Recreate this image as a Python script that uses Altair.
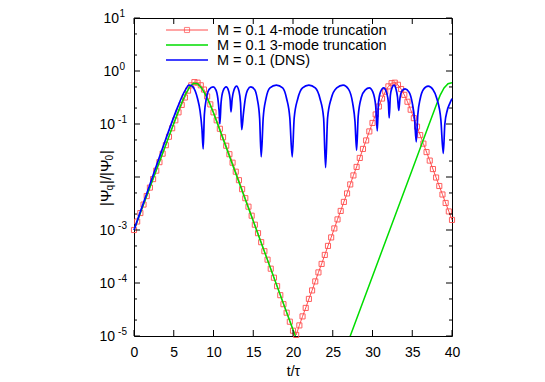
import altair as alt
import pandas as pd

W, H = 318, 318
FONT = "Liberation Sans"

# DNS curve (t, |psi_q|/|psi_0|)
dns_t = [0, 1, 2, 3, 4, 5, 5.5, 6, 6.5, 6.9, 7.3, 7.7, 8.0, 8.3, 8.55, 8.7,
         8.85, 9.1, 9.45, 9.95, 10.3, 10.55, 10.7, 10.8,
         10.95, 11.2, 11.6, 11.9, 12.1, 12.2,
         12.35, 12.6, 12.9, 13.2, 13.4, 13.55,
         13.75, 14.0, 14.3, 14.7, 15.2, 15.5, 15.8, 16.0,
         16.25, 16.6, 17.1, 17.9, 18.7, 19.2, 19.6, 19.9,
         20.15, 20.6, 21.2, 22.0, 22.8, 23.4, 23.85, 24.1,
         24.35, 24.8, 25.5, 26.3, 27.0, 27.5, 27.8, 28.0,
         28.2, 28.6, 29.1, 29.6, 30.05, 30.4, 30.6,
         30.75, 31.0, 31.4, 31.8, 32.0, 32.1,
         32.25, 32.45, 32.7, 32.95, 33.15, 33.3,
         33.45, 33.7, 34.1, 34.6, 35.0, 35.3, 35.5,
         35.7, 36.0, 36.4, 37.0, 37.6, 38.1, 38.6, 38.9,
         39.1, 39.4, 39.7, 40.0]
dns_y = [1.0e-3, 2.7e-3, 7.2e-3, 0.0195, 0.052, 0.135, 0.21, 0.32, 0.45, 0.54, 0.52, 0.42, 0.30, 0.18, 0.08, 0.034,
         0.15, 0.30, 0.45, 0.50, 0.44, 0.30, 0.18, 0.10,
         0.25, 0.42, 0.50, 0.42, 0.28, 0.17,
         0.30, 0.45, 0.52, 0.42, 0.25, 0.078,
         0.15, 0.30, 0.44, 0.50, 0.44, 0.30, 0.13, 0.024,
         0.13, 0.30, 0.48, 0.54, 0.48, 0.30, 0.13, 0.024,
         0.13, 0.30, 0.48, 0.54, 0.48, 0.30, 0.13, 0.015,
         0.13, 0.30, 0.48, 0.54, 0.45, 0.25, 0.11, 0.032,
         0.14, 0.32, 0.44, 0.48, 0.40, 0.22, 0.074,
         0.25, 0.40, 0.48, 0.38, 0.25, 0.13,
         0.35, 0.48, 0.54, 0.46, 0.32, 0.18,
         0.30, 0.42, 0.46, 0.40, 0.25, 0.12, 0.046,
         0.15, 0.30, 0.45, 0.52, 0.45, 0.30, 0.12, 0.028,
         0.10, 0.18, 0.24, 0.30]

# 4-mode truncation, sampled every 0.4 in t; values are log10(|psi_q|/|psi_0|)
red_t = [round(0.4 * i, 1) for i in range(101)]
red_log = [-3.00, -2.84, -2.68, -2.52, -2.36, -2.20, -2.04, -1.88, -1.72, -1.56,
           -1.40, -1.24, -1.08, -0.93, -0.78, -0.64, -0.50, -0.37, -0.27, -0.21,
           -0.22, -0.27, -0.35, -0.48, -0.63, -0.78, -0.93, -1.09, -1.25, -1.41,
           -1.57, -1.73, -1.90, -2.06, -2.23, -2.40, -2.56, -2.73, -2.90, -3.06,
           -3.23, -3.40, -3.56, -3.73, -3.90, -4.06, -4.23, -4.40, -4.56, -4.73,
           -4.90, -4.98,
           -4.80, -4.63, -4.47, -4.30, -4.14, -3.97, -3.80, -3.64, -3.47, -3.30,
           -3.14, -2.97, -2.80, -2.64, -2.47, -2.31, -2.14, -1.97, -1.81, -1.64,
           -1.47, -1.31, -1.14, -0.98, -0.82, -0.67, -0.52, -0.39, -0.29, -0.23,
           -0.22, -0.26, -0.34, -0.45, -0.58, -0.73, -0.89, -1.05, -1.21, -1.37,
           -1.53, -1.69, -1.85, -2.01, -2.17, -2.33, -2.49, -2.65, -2.81]

# 3-mode truncation; values are log10(|psi_q|/|psi_0|)
green_t = [0, 5.0, 5.5, 6.0, 6.5, 7.0, 7.5, 8.0, 8.5, 9.0, 9.5, 10.0,
           20.25, 23.7, 27.2, 35.1, 37.0, 38.0, 38.5, 39.0, 39.5, 40.0]
green_log = [-3.0, -0.99, -0.79, -0.60, -0.43, -0.30, -0.23, -0.24, -0.32, -0.45, -0.61, -0.79,
             -4.98, -6.45, -5.0, -1.82, -1.05, -0.65, -0.46, -0.32, -0.24, -0.22]

x_major = [0, 5, 10, 15, 20, 25, 30, 35, 40]
y_major = [1e-5, 1e-4, 1e-3, 1e-2, 1e-1, 1, 10]
# labelled decades (10^-2 is hidden behind the axis title in the reference)
y_lab = [1e-5, 1e-4, 1e-3, 1e-1, 1, 10]
y_exp = ["-5", "-4", "-3", "-1", "0", "1"]
y_minor = [2e-5, 5e-5, 2e-4, 5e-4, 2e-3, 5e-3, 0.02, 0.05, 0.2, 0.5, 2, 5]

legend_labels = ["M = 0.1 4-mode truncation", "M = 0.1 3-mode truncation", "M = 0.1 (DNS)"]

RED, GREEN, BLUE = "#ff4d4d", "#00dd00", "#0000ff"

df_dns = pd.DataFrame({"t": dns_t, "v": dns_y})
df_red = pd.DataFrame({"t": red_t, "v": [10 ** l for l in red_log]})
df_green = pd.DataFrame({"t": green_t, "v": [10 ** l for l in green_log]})

xs = alt.Scale(domain=[0, 40], nice=False, zero=False)
ys = alt.Scale(type="log", domain=[1e-5, 10], nice=False)

x_axis = alt.Axis(values=x_major, ticks=False, domain=False, grid=False,
                  labelFontSize=14, labelFont=FONT, labelColor="black", labelPadding=9,
                  labelFlush=False, title="t/τ", titleFont=FONT, titleFontSize=14,
                  titleFontWeight="normal", titleColor="black", titlePadding=5)

X = alt.X("t:Q", scale=xs, axis=x_axis)
Y = alt.Y("v:Q", scale=ys, axis=None)

red_line = alt.Chart(df_red).mark_line(color=RED, strokeWidth=1).encode(x=X, y=Y)
red_pts = alt.Chart(df_red).mark_point(shape="square", size=26, filled=False,
                                       color=RED, strokeWidth=1, opacity=0.9).encode(x=X, y=Y)
green_line = alt.Chart(df_green).mark_line(color=GREEN, strokeWidth=1.5, clip=True).encode(x=X, y=Y)
blue_line = alt.Chart(df_dns).mark_line(color=BLUE, strokeWidth=1.7,
                                        interpolate="monotone").encode(x=X, y=Y)

df_ymaj = pd.DataFrame({"v": y_major})
df_ylab = pd.DataFrame({"v": y_lab, "e": y_exp})
df_ymin = pd.DataFrame({"v": y_minor})
df_xmaj = pd.DataFrame({"t": x_major})

tick_layers = [
    alt.Chart(df_ymaj).mark_rule(color="black").encode(y=Y, x=alt.value(0), x2=alt.value(6)),
    alt.Chart(df_ymaj).mark_rule(color="black").encode(y=Y, x=alt.value(W), x2=alt.value(W - 6)),
    alt.Chart(df_ymin).mark_rule(color="black").encode(y=Y, x=alt.value(0), x2=alt.value(3)),
    alt.Chart(df_ymin).mark_rule(color="black").encode(y=Y, x=alt.value(W), x2=alt.value(W - 3)),
    alt.Chart(df_xmaj).mark_rule(color="black").encode(x=X, y=alt.value(H), y2=alt.value(H - 6)),
    alt.Chart(df_xmaj).mark_rule(color="black").encode(x=X, y=alt.value(0), y2=alt.value(6)),
]

# y tick labels "10" with superscript exponent
neg = df_ylab[df_ylab["e"].str.startswith("-")]
pos = df_ylab[~df_ylab["e"].str.startswith("-")]
label_layers = [
    alt.Chart(neg).mark_text(align="right", baseline="middle", font=FONT, fontSize=14,
                             color="black", dy=1).encode(y=Y, x=alt.value(-19), text=alt.value("10")),
    alt.Chart(neg).mark_text(align="right", baseline="middle", font=FONT, fontSize=10,
                             color="black", dy=-4).encode(y=Y, x=alt.value(-7), text="e:N"),
    alt.Chart(pos).mark_text(align="right", baseline="middle", font=FONT, fontSize=14,
                             color="black", dy=1).encode(y=Y, x=alt.value(-15), text=alt.value("10")),
    alt.Chart(pos).mark_text(align="right", baseline="middle", font=FONT, fontSize=10,
                             color="black", dy=-4).encode(y=Y, x=alt.value(-9), text="e:N"),
]

one = pd.DataFrame({"a": [0]})

# Legend
leg_rows = [12, 27, 42]
legend_layers = []
for i, col in enumerate([RED, GREEN, BLUE]):
    sw = 1 if i == 0 else (1.5 if i == 1 else 1.7)
    legend_layers.append(alt.Chart(one).mark_rule(color=col, strokeWidth=sw).encode(
        x=alt.value(32), x2=alt.value(74), y=alt.value(leg_rows[i])))
    legend_layers.append(alt.Chart(one).mark_text(align="left", baseline="middle", font=FONT,
                                                  fontSize=14.5, color="black").encode(
        x=alt.value(83), y=alt.value(leg_rows[i] + 1), text=alt.value(legend_labels[i])))
legend_layers.append(alt.Chart(one).mark_point(shape="square", size=26, filled=False, color=RED,
                                               strokeWidth=1).encode(x=alt.value(53), y=alt.value(12)))

# Y-axis title |Psi_q|/|Psi_0| built from pieces (rotated, reading upwards)
title_pieces = [("|Ψ", 15, 0, 15.5), ("q", 10, 4, 6.5), ("|/|Ψ", 15, 0, 23.5), ("0", 10, 4, 6.5), ("|", 15, 0, 4)]
title_layers = []
ypos = 188
for txt, fs, shift, adv in title_pieces:
    title_layers.append(alt.Chart(one).mark_text(align="left", baseline="middle", angle=270,
                                                 font=FONT, fontSize=fs, color="black").encode(
        x=alt.value(-28 + shift), y=alt.value(ypos), text=alt.value(txt)))
    ypos -= adv

chart = alt.layer(red_line, red_pts, green_line, blue_line, *tick_layers, *label_layers,
                  *legend_layers, *title_layers).properties(
    width=W, height=H,
    autosize=alt.AutoSizeParams(type="none"),
    padding={"left": 126, "top": 10, "right": 85, "bottom": 46},
).configure_view(stroke="black", strokeWidth=1)

chart.save("out.html", embed_options={"renderer": "svg", "actions": False})
